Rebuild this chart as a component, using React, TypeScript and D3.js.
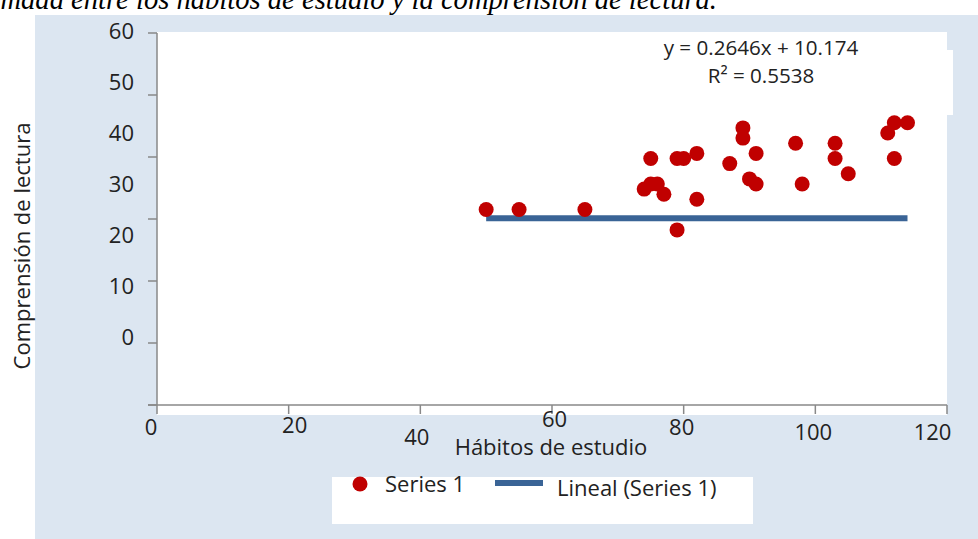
import React from 'react';
import * as d3 from 'd3';

// Data
const habitos = [50, 55, 65, 74, 75, 76, 77, 75, 79, 80, 82, 82, 79, 87, 89, 89, 91, 90, 91, 97, 98, 103, 103, 105, 111, 112, 114, 112];
const comprension = [25, 25, 25, 29, 30, 30, 28, 35, 35, 35, 36, 27, 21, 34, 41, 39, 36, 31, 30, 38, 30, 38, 35, 32, 40, 42, 42, 35];
const trendX = [50, 114];
const trendY = [23.3, 23.3];
const xTicks = [0, 20, 40, 60, 80, 100, 120];
const yTicks = [0, 10, 20, 30, 40, 50, 60];
const seriesName = 'Series 1';
const trendName = 'Lineal (Series 1)';
const equation = 'y = 0.2646x + 10.174';
const rSquared = 'R² = 0.5538';
const xTitle = 'Hábitos de estudio';
const yTitle = 'Comprensión de lectura';
const title = 'Correlación estimada entre los hábitos de estudio y la comprensión de lectura.';

// Layout (label displacement as in the reference)
const xLabelDx = [-6, 6, -3.5, 2.6, -2, -2, -14.5];
const xLabelDy = [21.7, 19.7, 31.7, 14.5, 21.7, 27.5, 27.5];

const W = 978;
const H = 539;
const FONT = "'Open Sans', sans-serif";
const RED = '#C00000';
const BLUE = '#3A6496';
const AXIS = '#898989';
const BG = '#DCE6F1';

export default function App() {
  const x = d3.scaleLinear().domain([0, 120]).range([157, 947]);
  const y = d3.scaleLinear().domain([0, 60]).range([337, 31]);
  const yTick = d3.scaleLinear().domain([0, 60]).range([405, 33]);
  const line = d3.line<number>().x((d, i) => x(trendX[i])).y((d, i) => y(trendY[i]));
  const tickFs = 22;

  return (
    <svg width={W} height={H} style={{ position: 'absolute', left: 0, top: 0 }} xmlns="http://www.w3.org/2000/svg">
      <rect x={0} y={0} width={W} height={H} fill="#fff" />
      <text x={717} y={9} textAnchor="end" fontFamily="'Liberation Serif', serif" fontStyle="italic" fontSize={28.6} fill="#000">{title}</text>
      <rect x={35} y={15} width={W - 35} height={H - 15} fill={BG} />
      {/* plot area */}
      <rect x={x(0)} y={yTick(60) - 1} width={x(120) - x(0)} height={415 - yTick(60) + 1} fill="#fff" />
      {/* equation box */}
      <rect x={800} y={50} width={153} height={65} fill="#fff" />
      {/* axes */}
      <line x1={x(0)} x2={x(0)} y1={yTick(60)} y2={yTick(0)} stroke={AXIS} strokeWidth={1.5} />
      {yTicks.map((t) => (
        <line key={'yt' + t} x1={148} x2={x(0)} y1={yTick(t)} y2={yTick(t)} stroke={AXIS} strokeWidth={1.5} />
      ))}
      <line x1={148} x2={x(120)} y1={yTick(0)} y2={yTick(0)} stroke={AXIS} strokeWidth={1.5} />
      {xTicks.map((t) => (
        <line key={'xt' + t} x1={x(t)} x2={x(t)} y1={yTick(0)} y2={yTick(0) + 9} stroke={AXIS} strokeWidth={1.5} />
      ))}
      {yTicks.map((t) => (
        <text key={'yl' + t} x={134} y={y(t) + 0.357 * tickFs} textAnchor="end" fontFamily={FONT} fontSize={tickFs} fill="#222">{t}</text>
      ))}
      {xTicks.map((t, i) => (
        <text key={'xl' + t} x={x(t) + xLabelDx[i]} y={yTick(0) + xLabelDy[i] + 0.357 * tickFs} textAnchor="middle" fontFamily={FONT} fontSize={tickFs} fill="#222">{t}</text>
      ))}
      {/* trendline */}
      <path d={line(trendX) || ''} stroke={BLUE} strokeWidth={6} fill="none" />
      {/* points */}
      {habitos.map((h, i) => (
        <circle key={'p' + i} cx={x(h)} cy={y(comprension[i])} r={7.5} fill={RED} />
      ))}
      {/* equation */}
      <text x={761} y={55} textAnchor="middle" fontFamily={FONT} fontSize={20.6} fill="#222">{equation}</text>
      <text x={761} y={83} textAnchor="middle" fontFamily={FONT} fontSize={20.6} fill="#222">{rSquared}</text>
      {/* axis titles */}
      <text x={551} y={455} textAnchor="middle" fontFamily={FONT} fontSize={22} fill="#222">{xTitle}</text>
      <text transform="translate(29.5,246) rotate(-90)" textAnchor="middle" fontFamily={FONT} fontSize={22} fill="#222">{yTitle}</text>
      {/* legend */}
      <rect x={332} y={477} width={421} height={47} fill="#fff" />
      <circle cx={360} cy={484} r={7.5} fill={RED} />
      <text x={385} y={492} fontFamily={FONT} fontSize={22} fill="#222">{seriesName}</text>
      <line x1={495} x2={543} y1={483} y2={483} stroke={BLUE} strokeWidth={6} />
      <text x={557} y={496} fontFamily={FONT} fontSize={22} fill="#222">{trendName}</text>
    </svg>
  );
}
